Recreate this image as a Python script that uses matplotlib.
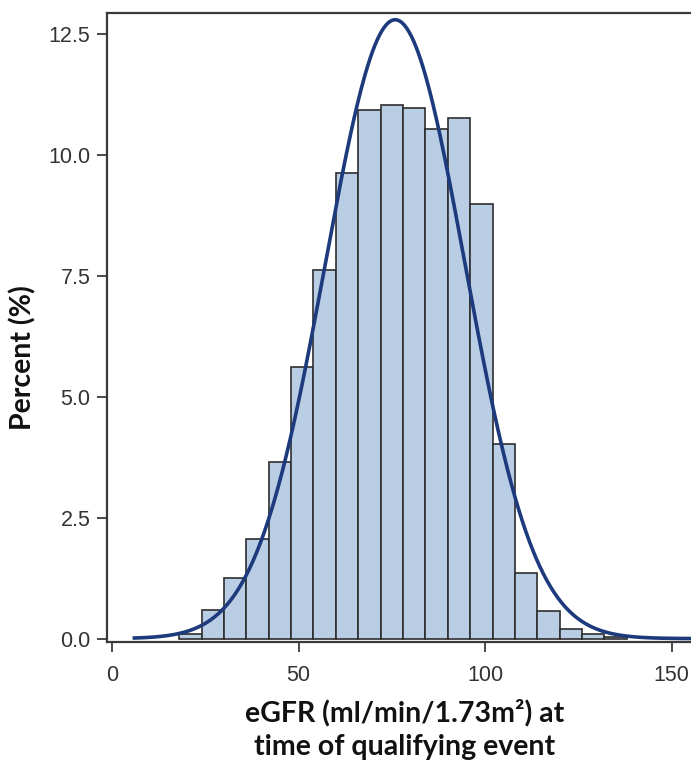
import numpy as np
import matplotlib
matplotlib.use("Agg")
import matplotlib.pyplot as plt

# histogram of eGFR, bin width 6 (percent of patients per bin)
bin_mids = [21, 27, 33, 39, 45, 51, 57, 63, 69, 75, 81, 87, 93, 99,
            105, 111, 117, 123, 129, 135]
percent = [0.10, 0.60, 1.25, 2.06, 3.65, 5.61, 7.62, 9.64, 10.94, 11.04,
           10.98, 10.55, 10.76, 8.99, 4.02, 1.36, 0.57, 0.20, 0.09, 0.03]
bin_width = 6

# fitted normal curve parameters
mu = 75.9
sigma = 18.7
curve_start, curve_end = 6, 165

x_ticks = [0, 50, 100, 150]
y_ticks = [0.0, 2.5, 5.0, 7.5, 10.0, 12.5]

fig = plt.figure(figsize=(6.91, 7.65), dpi=100)
ax = fig.add_axes([107 / 691, 1 - 641.5 / 765, (691 - 107) / 691, (641.5 - 13) / 765])

ax.bar(bin_mids, percent, width=bin_width, color="#b9cde5",
       edgecolor="#2e2e2e", linewidth=1.2, zorder=2)

xs = np.linspace(curve_start, curve_end, 500)
ys = 100 * bin_width * np.exp(-0.5 * ((xs - mu) / sigma) ** 2) / (sigma * np.sqrt(2 * np.pi))
ax.plot(xs, ys, color="#1c3a7c", linewidth=2.6, zorder=3)

ax.set_xlim(-1.34, 155.2)
ax.set_ylim(-0.06, 12.94)
ax.set_xticks(x_ticks)
ax.set_yticks(y_ticks)
ax.set_yticklabels([f"{v:.1f}" for v in y_ticks])

for s in ["left", "top", "bottom"]:
    ax.spines[s].set_color("#3a3a3a")
    ax.spines[s].set_linewidth(1.6)
ax.spines["right"].set_visible(False)

ax.tick_params(axis="both", colors="#3a3a3a", labelcolor="#333333",
               length=7, width=1.3, labelsize=15.5)
ax.tick_params(axis="y", pad=5)
ax.tick_params(axis="x", pad=10)
for lab in ax.get_xticklabels() + ax.get_yticklabels():
    lab.set_family("Liberation Sans")

fig.text(405 / 691, 1 - 713 / 765, "eGFR (ml/min/1.73m²) at",
         ha="center", va="center", fontsize=20.5, fontweight="bold",
         family=["Lato", "DejaVu Sans"], color="#111111")
fig.text(405 / 691, 1 - 747 / 765, "time of qualifying event",
         ha="center", va="center", fontsize=20.5, fontweight="bold",
         family=["Lato", "DejaVu Sans"], color="#111111")
fig.text(23 / 691, 1 - 358 / 765, "Percent (%)", rotation=90,
         ha="center", va="center", fontsize=20.5, fontweight="bold",
         family=["Lato", "DejaVu Sans"], color="#111111")

fig.savefig("out.png", dpi=100)
